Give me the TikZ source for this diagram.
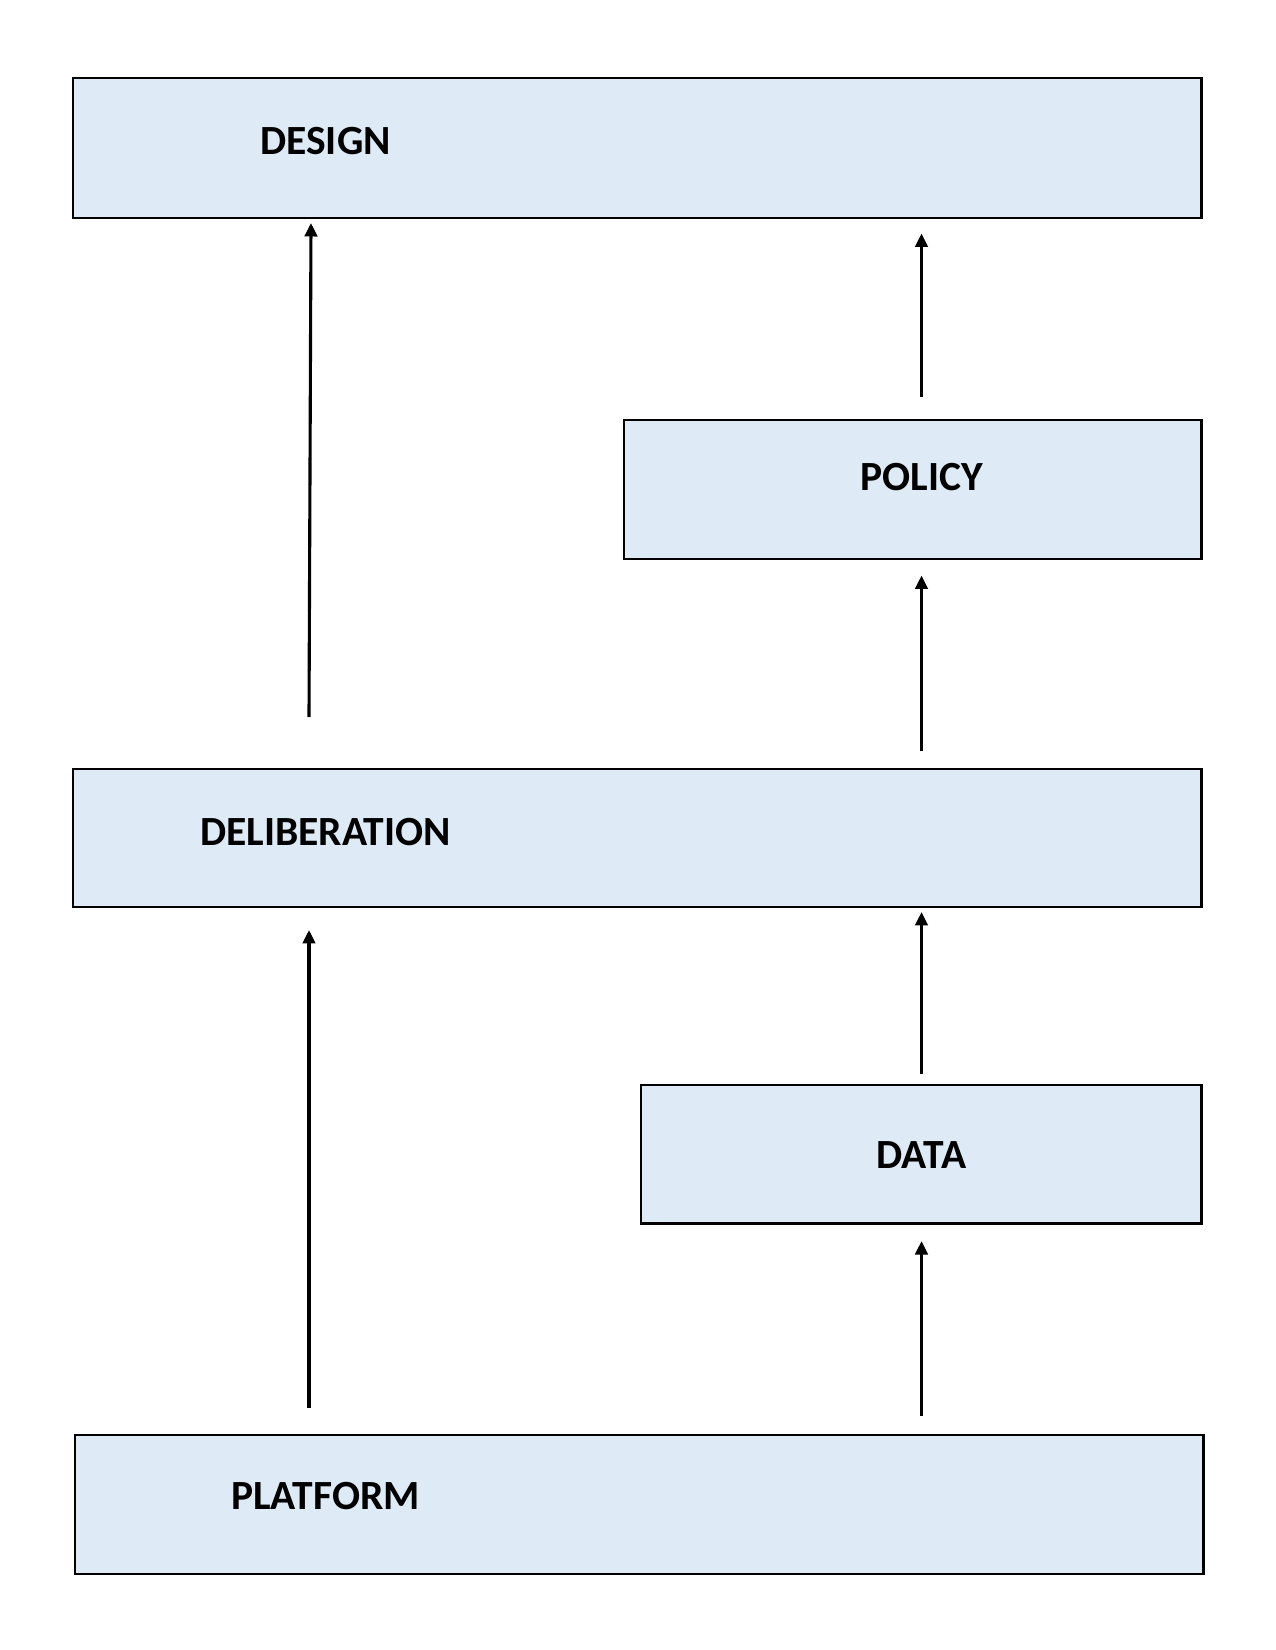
\documentclass[tikz,border=0pt]{standalone}
\usepackage{fontspec}
\setmainfont{Carlito}
\usetikzlibrary{arrows.meta,fit}
\definecolor{boxblue}{HTML}{DEEAF6}
\tikzset{
  box/.style={draw=black,fill=boxblue,line width=1pt,inner sep=0pt},
  lbl/.style={inner sep=0pt,anchor=base,font=\fontsize{20}{24}\selectfont\bfseries},
  arr/.style={line width=1.5pt,-{Triangle[length=6.5pt,width=6pt]}}
}
\begin{document}
\begin{tikzpicture}[x=0.4818pt,y=-0.4818pt]
    \useasboundingbox (0,0) rectangle (1275,1650);
    % boxes
    \node[box,fit={(72.6,77.8)(1201.5,217.7)}] (design) {};
    \node[box,fit={(624,419.8)(1201.5,558.6)}] (policy) {};
    \node[box,fit={(72.6,769)(1201.5,907)}] (delib) {};
    \node[box,fit={(640.6,1084.6)(1201.5,1223.5)}] (data) {};
    \node[box,fit={(74.7,1435)(1203.5,1573.7)}] (platform) {};
    % labels
    \node[lbl] (designtxt) at (325.5,155) {DESIGN};
    \node[lbl] (policytxt) at (921.5,491) {POLICY};
    \node[lbl] (delibtxt) at (325.5,845) {DELIBERATION};
    \node[lbl] (datatxt) at (921.5,1168) {DATA};
    \node[lbl] (platformtxt) at (325.5,1509) {PLATFORM};
    % arrow ends
    \coordinate (platL) at (309,1407.5);
    \coordinate (delibL) at (309,930);
    \coordinate (platR) at (921.5,1416);
    \coordinate (dataB) at (921.5,1241);
    \coordinate (dataT) at (921.5,1074);
    \coordinate (delibR) at (921.5,912);
    \coordinate (delibT) at (921.5,751);
    \coordinate (policyB) at (921.5,575.5);
    \coordinate (policyT) at (921.5,396.6);
    \coordinate (designR) at (921.5,233.5);
    \coordinate (delibTL) at (309,717);
    \coordinate (designL) at (311,223);
    % arrows
    \draw[arr] (platL) -- (delibL);
    \draw[arr] (platR) -- (dataB);
    \draw[arr] (dataT) -- (delibR);
    \draw[arr] (delibT) -- (policyB);
    \draw[arr] (policyT) -- (designR);
    \draw[arr] (delibTL) -- (designL);
\end{tikzpicture}
\end{document}
